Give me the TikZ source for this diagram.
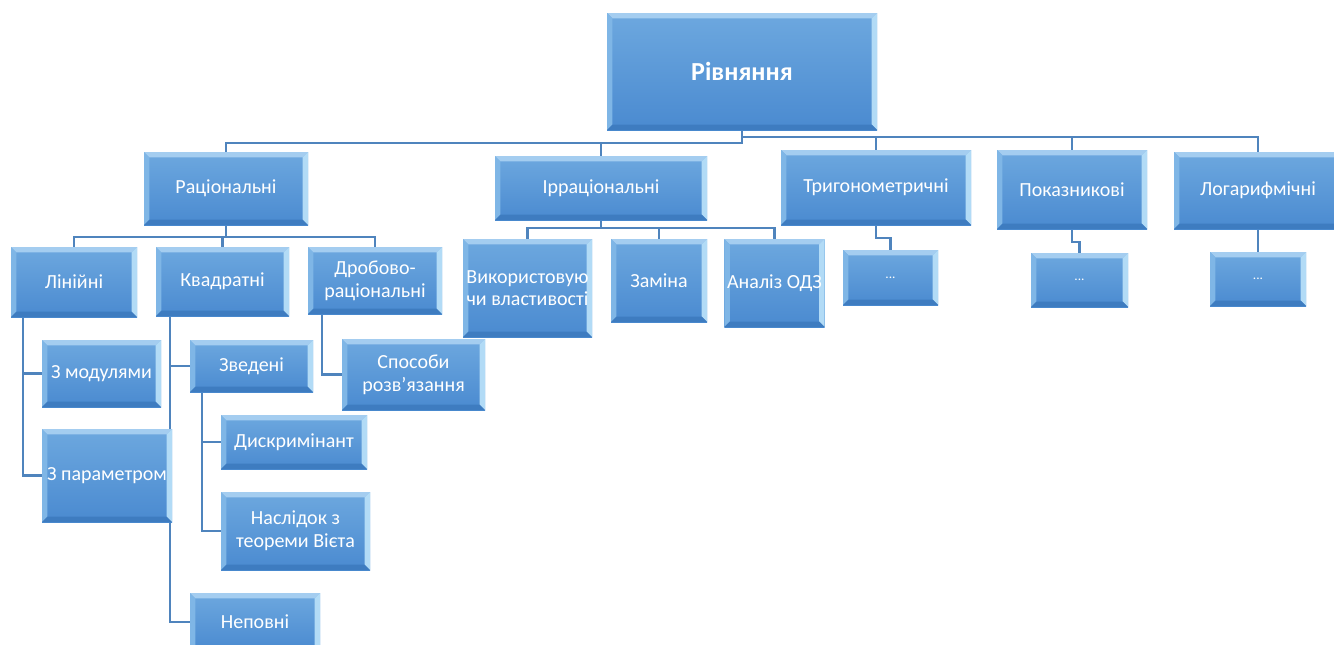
\documentclass[tikz,border=0pt]{standalone}
\usepackage{fontspec}
\setmainfont{Carlito}
\usetikzlibrary{calc}
\pgfdeclarelayer{bg}
\pgfsetlayers{bg,main}
\definecolor{faceT}{HTML}{6DA8DF}
\definecolor{faceB}{HTML}{4A8AD0}
\definecolor{bevT}{HTML}{A4CDF0}
\definecolor{bevL}{HTML}{7FB6E6}
\definecolor{bevR}{HTML}{B2DBF6}
\definecolor{bevB}{HTML}{3E7CC0}
\definecolor{lineC}{HTML}{4F84BD}
\newcommand{\bvw}{4pt}
\tikzset{
  eqbox/.style={rectangle, inner sep=2pt, outer sep=0pt, text=white,
    font=\fontsize{15}{17}\selectfont, align=center,
    top color=faceT, bottom color=faceB,
    path picture={
      \coordinate (NW) at (path picture bounding box.north west);
      \coordinate (NE) at (path picture bounding box.north east);
      \coordinate (SW) at (path picture bounding box.south west);
      \coordinate (SE) at (path picture bounding box.south east);
      \fill[bevT] (NW) -- (NE) -- ([xshift=-\bvw,yshift=-\bvw]NE) -- ([xshift=\bvw,yshift=-\bvw]NW) -- cycle;
      \fill[bevL] (NW) -- (SW) -- ([xshift=\bvw,yshift=\bvw]SW) -- ([xshift=\bvw,yshift=-\bvw]NW) -- cycle;
      \fill[bevR] (NE) -- (SE) -- ([xshift=-\bvw,yshift=\bvw]SE) -- ([xshift=-\bvw,yshift=-\bvw]NE) -- cycle;
      \fill[bevB] (SW) -- (SE) -- ([xshift=-\bvw,yshift=\bvw]SE) -- ([xshift=\bvw,yshift=\bvw]SW) -- cycle;
    }},
  rootbox/.style={eqbox, font=\fontsize{19.5}{22}\selectfont\bfseries},
  dotbox/.style={eqbox, font=\fontsize{10}{12}\selectfont},
  conn/.style={draw=lineC, line width=1.6pt}
}
\newcommand{\mybox}[7][eqbox]{%
  \node[#1, minimum width={(#5-#3)*0.75pt}, minimum height={(#6-#4)*0.75pt}]
    (#2) at ({(#3+#5)/2},{(#4+#6)/2}) {#7};}
\begin{document}
\begin{tikzpicture}[x=0.75pt,y=-0.75pt]
\useasboundingbox (0,0) rectangle (1334,644);
% boxes
\mybox[rootbox]{root}{607}{13}{877}{130}{Рівняння}
\mybox{rat}{144}{152}{308}{225}{Раціональні}
\mybox{irr}{495}{156}{707}{220}{Ірраціональні}
\mybox{trig}{781}{150}{971}{225}{Тригонометричні}
\mybox{pok}{997}{150}{1147}{229}{Показникові}
\mybox{log}{1174}{152}{1342}{229}{Логарифмічні}
\mybox{lin}{11}{247}{137}{317}{Лінійні}
\mybox{kv}{156}{247}{289}{316}{Квадратні}
\mybox{dr}{308}{247}{442}{314}{Дробово-\\раціональні}
\mybox{mod}{42}{340}{161}{407}{З модулями}
\mybox{par}{42}{429}{172}{522}{З параметром}
\mybox{zv}{190}{340}{313}{392}{Зведені}
\mybox{nep}{190}{593}{320}{651}{Неповні}
\mybox{dys}{221}{415}{367}{469}{Дискримінант}
\mybox{nas}{221}{492}{370}{570}{Наслідок з\\теореми Вієта}
\mybox{spos}{342}{339}{485}{410}{Способи\\розв’язання}
\mybox{vyk}{463}{239}{592}{337}{Використовую\\чи властивості}
\mybox{zam}{611}{239}{707}{322}{Заміна}
\mybox{an}{727}{239}{822}{327}{Аналіз ОДЗ}
\mybox[dotbox]{t1}{843}{250}{938}{305}{...}
\mybox[dotbox]{p1}{1031}{253}{1128}{307}{...}
\mybox[dotbox]{l1}{1210}{252}{1306}{306}{...}
% connectors
\begin{pgfonlayer}{bg}
\coordinate (jL) at (743,143);
\coordinate (jR) at (743,137);
\draw[conn] (root.south) -- (root.south |- jL) -| (rat.north);
\draw[conn] (root.south |- jL) -| (irr.north);
\draw[conn] (root.south |- jR) -| (trig.north);
\draw[conn] (root.south |- jR) -| (pok.north);
\draw[conn] (root.south |- jR) -| (log.north);
\coordinate (jRat) at (0,237);
\draw[conn] (rat.south) -- (rat.south |- jRat) -| (lin.north);
\draw[conn] (rat.south |- jRat) -| (kv.north);
\draw[conn] (rat.south |- jRat) -| (dr.north);
\draw[conn] ($(lin.south west)+(12,0)$) |- (mod.west);
\draw[conn] ($(lin.south west)+(12,0)$) |- (par.west);
\draw[conn] ($(kv.south west)+(14,0)$) |- (zv.west);
\draw[conn] ($(kv.south west)+(14,0)$) |- (nep.west);
\draw[conn] ($(zv.south west)+(12,0)$) |- (dys.west);
\draw[conn] ($(zv.south west)+(12,0)$) |- (nas.west);
\draw[conn] ($(dr.south west)+(14,0)$) |- (spos.west);
\coordinate (jIrr) at (0,228);
\draw[conn] (irr.south) -- (irr.south |- jIrr) -| (vyk.north);
\draw[conn] (irr.south |- jIrr) -| (zam.north);
\draw[conn] (irr.south |- jIrr) -| (an.north);
\draw[conn] (trig.south) -- ++(0,13) -| (t1.north);
\draw[conn] (pok.south) -- ++(0,13) -| (p1.north);
\draw[conn] (log.south) -- (l1.north);
\end{pgfonlayer}
\end{tikzpicture}
\end{document}
